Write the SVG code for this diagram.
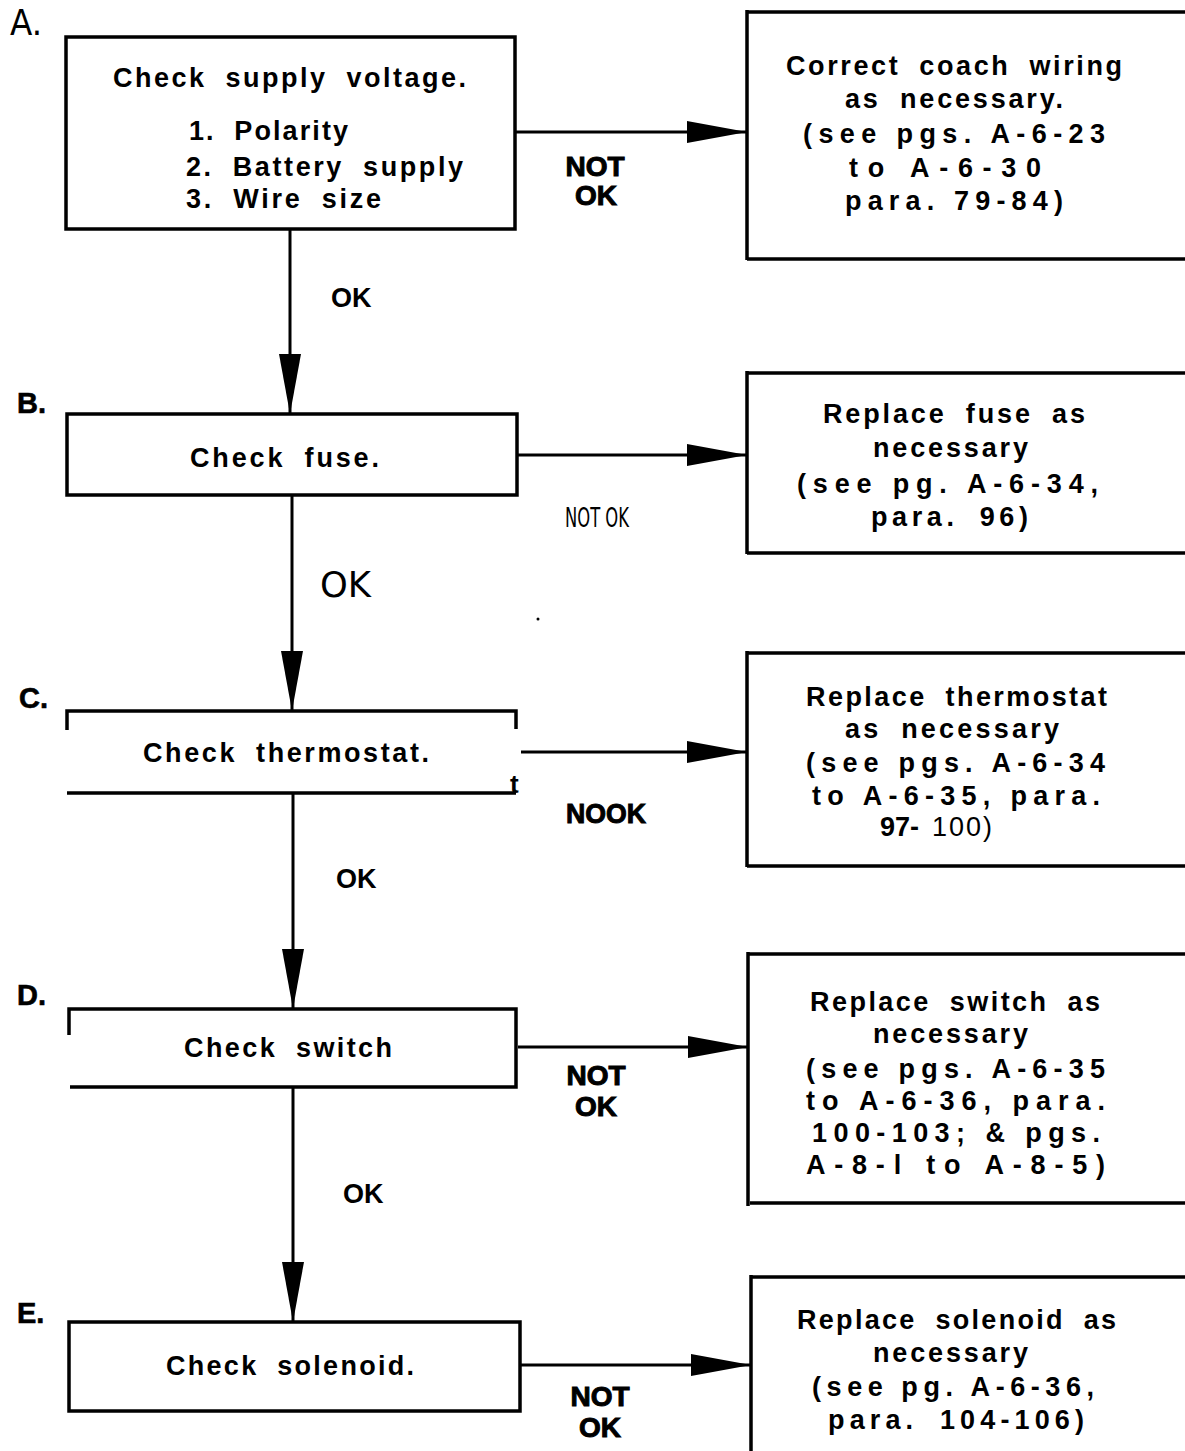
<svg xmlns="http://www.w3.org/2000/svg" width="1185" height="1451" viewBox="0 0 1185 1451">
<style>
.bx{fill:none;stroke:#000;stroke-width:3.5}
.ln{fill:none;stroke:#000;stroke-width:3}
.t{font-family:"Liberation Sans",Arial,sans-serif;font-weight:bold;font-size:27px;fill:#000;word-spacing:9px}
.sp{word-spacing:0}
.nk{font-family:"Liberation Sans",Arial,sans-serif;font-weight:900;font-size:28px;fill:#000;stroke:#000;stroke-width:1;text-anchor:middle}
.ok{font-family:"Liberation Sans",Arial,sans-serif;font-weight:bold;font-size:27px;fill:#000}
.thin{font-family:"Liberation Sans Narrow","DejaVu Sans Condensed","Liberation Sans",sans-serif;font-weight:normal;fill:#000}
.lt{font-family:"Liberation Sans",Arial,sans-serif;font-weight:bold;font-size:29px;fill:#000;stroke:#000;stroke-width:0.6}
</style>
<defs>
<marker id="ah" viewBox="0 0 60 22" refX="60" refY="11" markerWidth="60" markerHeight="22" markerUnits="userSpaceOnUse" orient="auto">
<path d="M0,0 L60,11 L0,22 z" fill="#000"/>
</marker>
</defs>

<g id="connectors">
<line class="ln" x1="515" y1="132" x2="747" y2="132" marker-end="url(#ah)"/>
<line class="ln" x1="290" y1="229" x2="290" y2="414" marker-end="url(#ah)"/>
<line class="ln" x1="517" y1="455" x2="747" y2="455" marker-end="url(#ah)"/>
<line class="ln" x1="292" y1="495" x2="292" y2="711" marker-end="url(#ah)"/>
<line class="ln" x1="521" y1="752" x2="747" y2="752" marker-end="url(#ah)"/>
<line class="ln" x1="293" y1="793" x2="293" y2="1009" marker-end="url(#ah)"/>
<line class="ln" x1="518" y1="1047" x2="748" y2="1047" marker-end="url(#ah)"/>
<line class="ln" x1="293" y1="1087" x2="293" y2="1322" stroke-width="5" marker-end="url(#ah)"/>
<line class="ln" x1="520" y1="1365" x2="751" y2="1365" marker-end="url(#ah)"/>
<text class="nk" x="595" y="176">NOT</text>
<text class="nk" x="596" y="205">OK</text>
<text class="thin" x="565" y="527" font-size="26" textLength="64" lengthAdjust="spacingAndGlyphs">NOT OK</text>
<text class="nk" x="606" y="823" textLength="80" lengthAdjust="spacingAndGlyphs">NOOK</text>
<text class="nk" x="596" y="1085">NOT</text>
<text class="nk" x="596" y="1116">OK</text>
<text class="nk" x="600" y="1406">NOT</text>
<text class="nk" x="600" y="1437">OK</text>
<text class="ok" x="331" y="307">OK</text>
<text class="thin" x="320" y="597" font-size="35" textLength="51" lengthAdjust="spacingAndGlyphs">OK</text>
<text class="ok" x="336" y="888">OK</text>
<text class="ok" x="343" y="1203">OK</text>
<circle cx="538" cy="619" r="1.5" fill="#000"/>
</g>

<g id="labels">
<text class="thin" x="10" y="35" font-size="35" textLength="32" lengthAdjust="spacingAndGlyphs">A.</text>
<text class="lt" x="17" y="413">B.</text>
<text class="lt" x="19" y="708">C.</text>
<text class="lt" x="17" y="1005">D.</text>
<text class="lt" x="17" y="1323">E.</text>
</g>

<g id="nodeA">
<rect class="bx" x="66" y="37" width="449" height="192"/>
<text class="t" x="113" y="87" textLength="353">Check supply voltage.</text>
<text class="t" x="189" y="140" textLength="159">1. Polarity</text>
<text class="t" x="186" y="176" textLength="277">2. Battery supply</text>
<text class="t" x="186" y="208" textLength="195">3. Wire size</text>
</g>
<g id="nodeA2">
<path class="bx" d="M747,12 H1190 M747,10 V260 M747,259 H1190"/>
<text class="t" x="786" y="75" textLength="336">Correct coach wiring</text>
<text class="t" x="845" y="108" textLength="218">as necessary.</text>
<text class="t sp" x="803" y="143" textLength="302">(see pgs. A-6-23</text>
<text class="t sp" x="849" y="177" textLength="192">to A-6-30</text>
<text class="t sp" x="845" y="210" textLength="218">para. 79-84)</text>
</g>

<g id="nodeB">
<rect class="bx" x="67" y="414" width="450" height="81"/>
<text class="t" x="190" y="467" textLength="189">Check fuse.</text>
</g>
<g id="nodeB2">
<path class="bx" d="M747,373 H1190 M747,371 V554 M747,553 H1190"/>
<text class="t" x="823" y="423" textLength="262">Replace fuse as</text>
<text class="t" x="873" y="457" textLength="155">necessary</text>
<text class="t sp" x="797" y="493" textLength="301">(see pg. A-6-34,</text>
<text class="t" x="871" y="526" textLength="157">para. 96)</text>
</g>

<g id="nodeC">
<path class="bx" d="M67,730 V711 H516 V729 M67,793 H516"/>
<text class="t" x="143" y="762" textLength="286">Check thermostat.</text>
<text x="510" y="793" font-family="Liberation Sans, Arial, sans-serif" font-weight="bold" font-size="26">t</text>
</g>
<g id="nodeC2">
<path class="bx" d="M747,653 H1190 M747,651 V867 M747,866 H1190"/>
<text class="t" x="806" y="706" textLength="301">Replace thermostat</text>
<text class="t" x="845" y="738" textLength="214">as necessary</text>
<text class="t sp" x="806" y="772" textLength="299">(see pgs. A-6-34</text>
<text class="t sp" x="812" y="805" textLength="288">to A-6-35, para.</text>
<text x="880" y="836" font-family="Liberation Sans, Arial, sans-serif" font-size="27"><tspan font-weight="bold">97-</tspan><tspan x="932" letter-spacing="2">100)</tspan></text>
</g>

<g id="nodeD">
<path class="bx" d="M69,1035 V1009 H516 V1087 H70"/>
<text class="t" x="184" y="1057" textLength="208">Check switch</text>
</g>
<g id="nodeD2">
<path class="bx" d="M748,954 H1190 M748,952 V1206 M750,1203 H1190"/>
<text class="t" x="810" y="1011" textLength="290">Replace switch as</text>
<text class="t" x="873" y="1043" textLength="155">necessary</text>
<text class="t sp" x="806" y="1078" textLength="299">(see pgs. A-6-35</text>
<text class="t sp" x="806" y="1110" textLength="299">to A-6-36, para.</text>
<text class="t sp" x="812" y="1142" textLength="288">100-103; &amp; pgs.</text>
<text class="t sp" x="806" y="1174" textLength="299">A-8-l to A-8-5)</text>
</g>

<g id="nodeE">
<rect class="bx" x="69" y="1322" width="451" height="89"/>
<text class="t" x="166" y="1375" textLength="248">Check solenoid.</text>
</g>
<g id="nodeE2">
<path class="bx" d="M751,1277 H1190 M751,1275 V1451"/>
<text class="t" x="797" y="1329" textLength="319">Replace solenoid as</text>
<text class="t" x="873" y="1362" textLength="155">necessary</text>
<text class="t sp" x="812" y="1396" textLength="282">(see pg. A-6-36,</text>
<text class="t" x="828" y="1429" textLength="256">para. 104-106)</text>
</g>
</svg>
